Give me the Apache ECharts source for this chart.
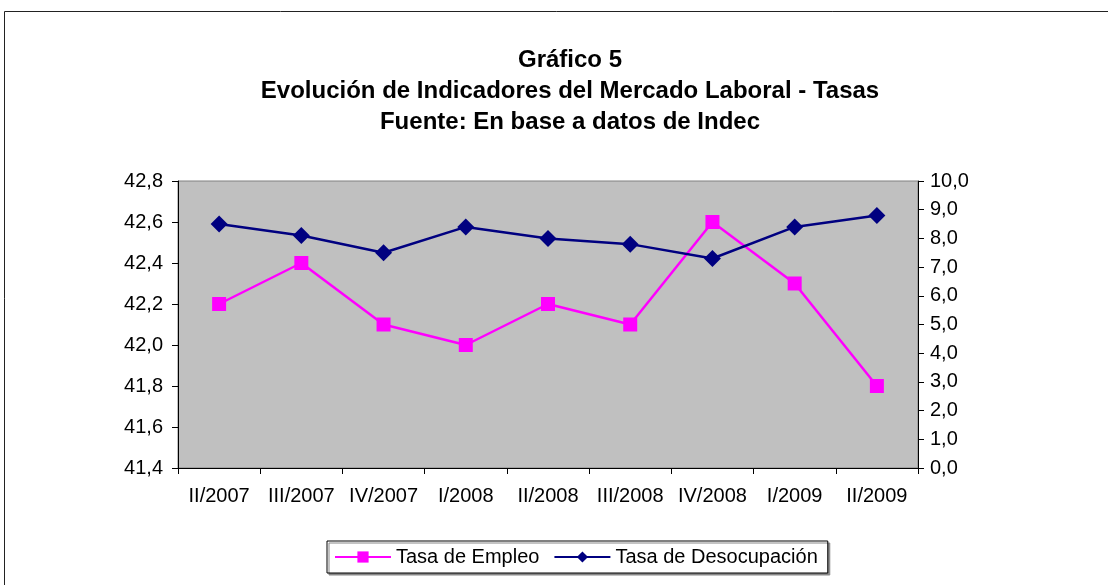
<!DOCTYPE html>
<html>
<head>
<meta charset="utf-8">
<script src="https://cdn.jsdelivr.net/npm/echarts@6/dist/echarts.min.js"></script>
<style>
  html, body { margin: 0; padding: 0; background: #fff; }
  #chart { width: 1108px; height: 585px; }
</style>
</head>
<body>
<div id="chart"></div>
<script>
// datos del gráfico
var trimestres = ['II/2007', 'III/2007', 'IV/2007', 'I/2008', 'II/2008', 'III/2008', 'IV/2008', 'I/2009', 'II/2009'];
var tasaEmpleo = [42.2, 42.4, 42.1, 42.0, 42.2, 42.1, 42.6, 42.3, 41.8];
var tasaDesocupacion = [8.5, 8.1, 7.5, 8.4, 8.0, 7.8, 7.3, 8.4, 8.8];
var titulos = ['Gráfico 5', 'Evolución de Indicadores del Mercado Laboral - Tasas', 'Fuente: En base a datos de Indec'];

function coma(v) {
    return v.toFixed(1).replace('.', ',');
}

var chart = echarts.init(document.getElementById('chart'));
var fuente = 'Liberation Sans, Arial, sans-serif';

var graficos = [{
    type: 'rect',
    shape: { x: 4.5, y: 11.5, width: 1200, height: 700 },
    style: { fill: 'none', stroke: '#222', lineWidth: 1 },
    silent: true
}];
titulos.forEach(function (t, i) {
    graficos.push({
        type: 'text',
        x: 570,
        y: 60 + i * 31,
        style: {
            text: t,
            fill: '#000',
            font: 'bold 24px ' + fuente,
            textAlign: 'center',
            textVerticalAlign: 'middle'
        }
    });
});

var option = {
    animation: false,
    textStyle: { fontFamily: fuente },
    graphic: graficos,
    grid: {
        left: 178,
        right: 190,
        top: 181,
        bottom: 117,
        show: true,
        backgroundColor: '#C0C0C0',
        borderColor: '#808080',
        borderWidth: 1
    },
    legend: {
        left: 327,
        top: 541,
        padding: [6, 10, 6, 7],
        borderColor: '#000',
        borderWidth: 1,
        backgroundColor: '#fff',
        shadowColor: '#888',
        shadowOffsetX: 2,
        shadowOffsetY: 2,
        shadowBlur: 0,
        itemWidth: 56,
        itemHeight: 14,
        itemGap: 14,
        textStyle: { color: '#000', fontSize: 20, fontFamily: fuente },
        data: ['Tasa de Empleo', 'Tasa de Desocupación']
    },
    xAxis: {
        type: 'category',
        data: trimestres,
        boundaryGap: true,
        axisLine: { lineStyle: { color: '#000', width: 1 } },
        axisTick: { show: true, length: 6, lineStyle: { color: '#000' } },
        axisLabel: { color: '#000', fontSize: 20, margin: 18, interval: 0 }
    },
    yAxis: [{
        type: 'value',
        min: 41.4,
        max: 42.8,
        interval: 0.2,
        position: 'left',
        axisLine: { show: true, lineStyle: { color: '#000', width: 1 } },
        axisTick: { show: true, length: 6, lineStyle: { color: '#000' } },
        splitLine: { show: false },
        axisLabel: { color: '#000', fontSize: 20, margin: 15, formatter: coma }
    }, {
        type: 'value',
        min: 0,
        max: 10,
        interval: 1,
        position: 'right',
        axisLine: { show: true, lineStyle: { color: '#000', width: 1 } },
        axisTick: { show: true, length: 6, lineStyle: { color: '#000' } },
        splitLine: { show: false },
        axisLabel: { color: '#000', fontSize: 20, margin: 12, formatter: coma }
    }],
    series: [{
        name: 'Tasa de Empleo',
        type: 'line',
        yAxisIndex: 0,
        data: tasaEmpleo,
        symbol: 'rect',
        symbolSize: 14,
        color: '#FF00FF',
        lineStyle: { width: 2.5, color: '#FF00FF' },
        itemStyle: { color: '#FF00FF' }
    }, {
        name: 'Tasa de Desocupación',
        type: 'line',
        yAxisIndex: 1,
        data: tasaDesocupacion,
        symbol: 'diamond',
        symbolSize: 17,
        color: '#000080',
        lineStyle: { width: 2.5, color: '#000080' },
        itemStyle: { color: '#000080' }
    }]
};
chart.setOption(option);
</script>
</body>
</html>
